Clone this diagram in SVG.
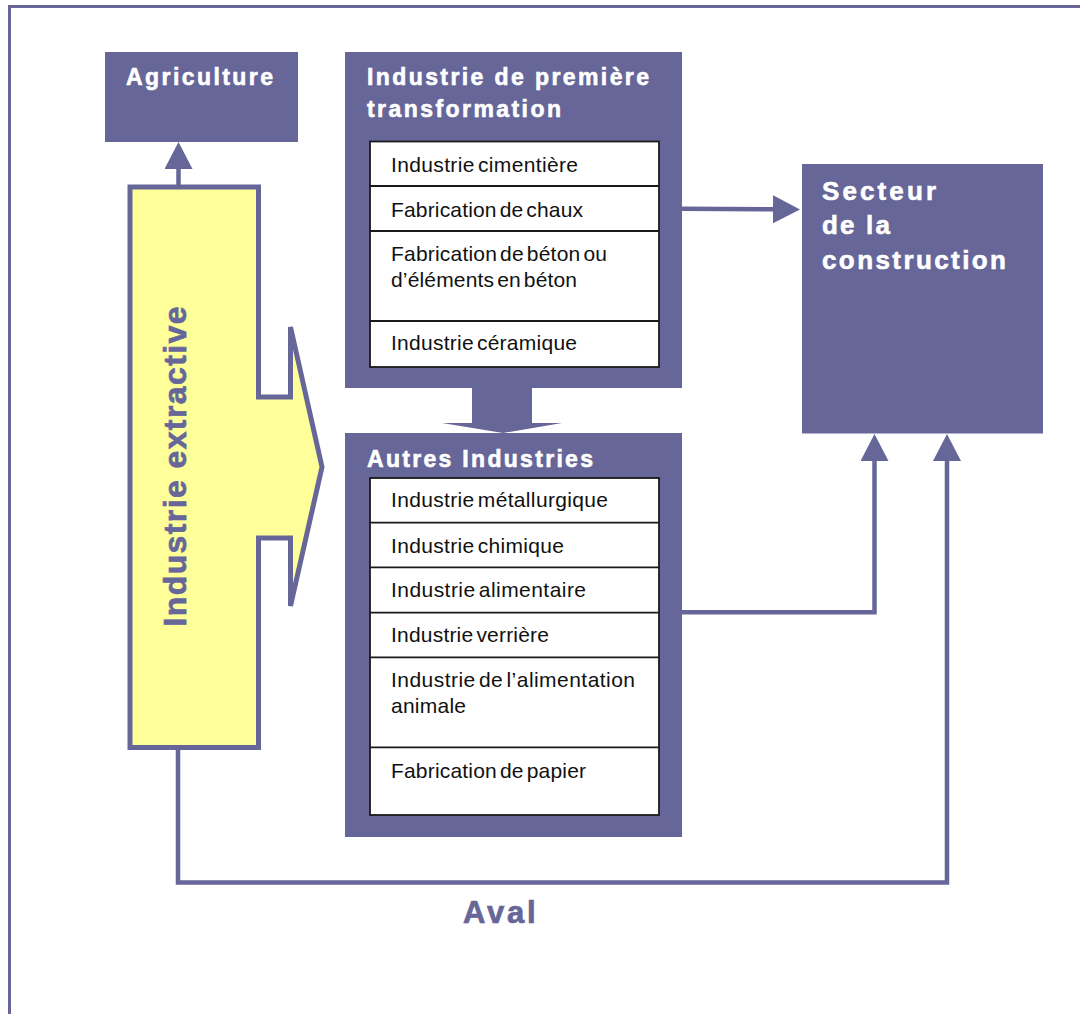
<svg xmlns="http://www.w3.org/2000/svg" width="1080" height="1014" viewBox="0 0 1080 1014">
<defs>
<style>
.box{fill:#666699}
.tbl{fill:#fff;stroke:#1a1a1a;stroke-width:1.8}
.row{stroke:#1a1a1a;stroke-width:1.8}
.hd{font-family:"Liberation Sans",Arial,sans-serif;font-weight:bold;font-size:23px;fill:#fff;stroke:#fff;stroke-width:0.6}
.hd2{font-family:"Liberation Sans",Arial,sans-serif;font-weight:bold;font-size:26px;fill:#fff;stroke:#fff;stroke-width:0.6}
.it{font-family:"Liberation Sans",Arial,sans-serif;font-size:21px;fill:#111;word-spacing:-3px}
.pl{font-family:"Liberation Sans",Arial,sans-serif;font-weight:bold;fill:#666699;stroke:#666699;stroke-width:0.7}
.con{fill:none;stroke:#666699;stroke-width:4.5}
</style>
<marker id="ah" markerUnits="userSpaceOnUse" markerWidth="28" markerHeight="28" refX="0" refY="14" orient="auto" viewBox="0 0 28 28">
<path d="M0,0 L27,14 L0,28 z" fill="#666699"/>
</marker>
</defs>
<rect x="0" y="0" width="1080" height="1014" fill="#fff"/>
<rect id="frame" x="9.5" y="6.5" width="1200" height="1200" fill="none" stroke="#666699" stroke-width="3"/>

<g id="agriculture">
<rect class="box" x="105" y="52" width="193" height="90"/>
<text class="hd" x="126" y="85" textLength="147" lengthAdjust="spacing">Agriculture</text>
</g>

<g id="premiere">
<rect class="box" x="345" y="52" width="337" height="336"/>
<text class="hd" x="367" y="85" textLength="282" lengthAdjust="spacing">Industrie de première</text>
<text class="hd" x="367" y="116.5" textLength="194" lengthAdjust="spacing">transformation</text>
<rect class="tbl" x="370" y="141.5" width="289" height="225.5"/>
<line class="row" x1="370" y1="186" x2="659" y2="186"/>
<line class="row" x1="370" y1="231" x2="659" y2="231"/>
<line class="row" x1="370" y1="321" x2="659" y2="321"/>
<text class="it" x="391" y="171.5" textLength="187" lengthAdjust="spacing">Industrie cimentière</text>
<text class="it" x="391" y="216.5" textLength="192" lengthAdjust="spacing">Fabrication de chaux</text>
<text class="it" x="391" y="260.5" textLength="216" lengthAdjust="spacing">Fabrication de béton ou</text>
<text class="it" x="391" y="286.5" textLength="186" lengthAdjust="spacing">d’éléments en béton</text>
<text class="it" x="391" y="350" textLength="186" lengthAdjust="spacing">Industrie céramique</text>
</g>

<g id="autres">
<rect class="box" x="345" y="433" width="337" height="404"/>
<text class="hd" x="367" y="466.5" textLength="226" lengthAdjust="spacing">Autres Industries</text>
<rect class="tbl" x="370" y="478" width="289" height="337"/>
<line class="row" x1="370" y1="522.7" x2="659" y2="522.7"/>
<line class="row" x1="370" y1="567.3" x2="659" y2="567.3"/>
<line class="row" x1="370" y1="612.7" x2="659" y2="612.7"/>
<line class="row" x1="370" y1="657.3" x2="659" y2="657.3"/>
<line class="row" x1="370" y1="747.3" x2="659" y2="747.3"/>
<text class="it" x="391" y="506.5" textLength="217" lengthAdjust="spacing">Industrie métallurgique</text>
<text class="it" x="391" y="552.5" textLength="173" lengthAdjust="spacing">Industrie chimique</text>
<text class="it" x="391" y="596.5" textLength="195" lengthAdjust="spacing">Industrie alimentaire</text>
<text class="it" x="391" y="641.5" textLength="158" lengthAdjust="spacing">Industrie verrière</text>
<text class="it" x="391" y="686.5" textLength="244" lengthAdjust="spacing">Industrie de l’alimentation</text>
<text class="it" x="391" y="713" textLength="75" lengthAdjust="spacing">animale</text>
<text class="it" x="391" y="777.5" textLength="195" lengthAdjust="spacing">Fabrication de papier</text>
</g>

<g id="secteur">
<rect class="box" x="802" y="164" width="241" height="269.5"/>
<text class="hd2" x="822" y="200" textLength="114" lengthAdjust="spacing">Secteur</text>
<text class="hd2" x="822" y="234.3" textLength="68" lengthAdjust="spacing">de la</text>
<text class="hd2" x="822" y="269" textLength="184" lengthAdjust="spacing">construction</text>
</g>

<g id="extractive">
<path d="M130,187 H258.5 V397 H290.5 V327 L322,467 L290.5,606 V538 H258.5 V747.5 H130 Z" fill="#FFFF99" stroke="#666699" stroke-width="5" stroke-linejoin="miter"/>
<text class="pl" x="186" y="626.5" font-size="32" textLength="320" lengthAdjust="spacing" transform="rotate(-90 186 626.5)">Industrie extractive</text>
</g>

<g id="connectors">
<line class="con" x1="178.5" y1="187" x2="178.5" y2="169" marker-end="url(#ah)" stroke-width="5"/>
<line class="con" x1="682" y1="208.7" x2="773" y2="209.3" marker-end="url(#ah)"/>
<polygon points="472,388 532,388 532,423 562,423 503,433 442,423 472,423" fill="#666699"/>
<path class="con" d="M682,612.3 H874.5 V461" marker-end="url(#ah)"/>
<path class="con" d="M178,747.5 V882.5 H947 V461" marker-end="url(#ah)"/>
</g>

<g id="aval">
<text class="pl" x="463" y="923.3" font-size="31" textLength="72.5" lengthAdjust="spacing">Aval</text>
</g>
</svg>
